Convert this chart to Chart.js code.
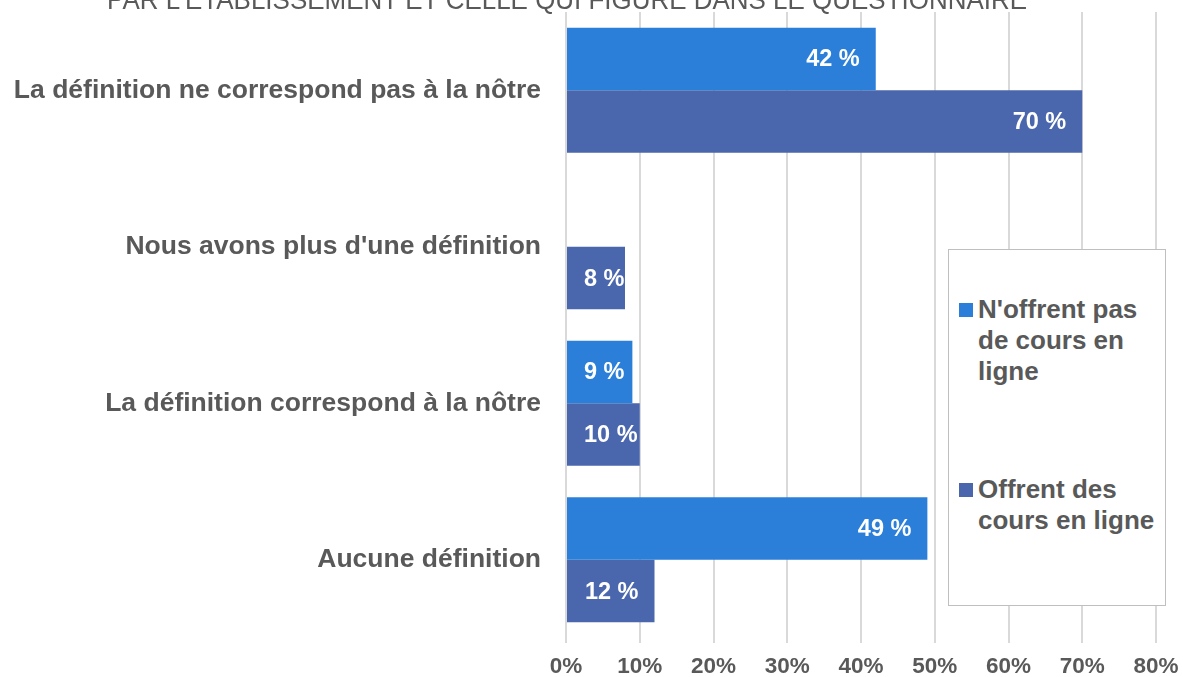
<!DOCTYPE html>
<html>
<head>
<meta charset="utf-8">
<script src="https://cdn.jsdelivr.net/npm/chart.js@4/dist/chart.umd.min.js"></script>
<style>
  html, body { margin: 0; padding: 0; background: #fff; }
  #wrap { position: relative; width: 1183px; height: 677px; overflow: hidden; }
  #legend { position: absolute; left: 948px; top: 249px; width: 216px; height: 355px;
    border: 1px solid #BFBFBF; background: #fff; box-sizing: content-box;
    font-family: "Liberation Sans", Arial, sans-serif; font-weight: bold; font-size: 26px;
    color: #595959; line-height: 31px; }
  .item { position: absolute; left: 29px; white-space: nowrap; }
  .sw { position: absolute; left: -19px; top: 9px; width: 14px; height: 14px; }
</style>
</head>
<body>
<div id="wrap">
  <canvas id="c" width="1183" height="677"></canvas>
  <div id="legend"></div>
</div>
<script>
const titleText = "PAR L'ÉTABLISSEMENT ET CELLE QUI FIGURE DANS LE QUESTIONNAIRE";
const categories = [
  "La définition ne correspond pas à la nôtre",
  "Nous avons plus d'une définition",
  "La définition correspond à la nôtre",
  "Aucune définition"
];
const seriesNames = ["N'offrent pas de cours en ligne", "Offrent des cours en ligne"];
const seriesLegendLines = [["N'offrent pas", "de cours en", "ligne"], ["Offrent des", "cours en ligne"]];
const noOnline = [42, 0, 9, 49];
const withOnline = [70, 8, 10, 12];
const xTicks = [0, 10, 20, 30, 40, 50, 60, 70, 80];
const colors = ["#2B7FD9", "#4A66AD"];

// HTML legend
const legendEl = document.getElementById('legend');
const legendTops = [44, 224];
seriesLegendLines.forEach((lines, i) => {
  const d = document.createElement('div');
  d.className = 'item';
  d.style.top = legendTops[i] + 'px';
  d.innerHTML = '<span class="sw" style="background:' + colors[i] + '"></span>' + lines.join('<br>');
  legendEl.appendChild(d);
});

const FONT = '"Liberation Sans", Arial, sans-serif';

const titlePlugin = {
  id: 'cutTitle',
  afterDraw(chart) {
    const ctx = chart.ctx;
    ctx.save();
    ctx.font = '28px ' + FONT;
    ctx.fillStyle = '#595959';
    ctx.textAlign = 'center';
    ctx.textBaseline = 'alphabetic';
    ctx.fillText(titleText, 567, 9, 920);
    ctx.restore();
  }
};

const labelPlugin = {
  id: 'barLabels',
  afterDatasetsDraw(chart) {
    const ctx = chart.ctx;
    ctx.save();
    ctx.font = 'bold 23.5px ' + FONT;
    ctx.fillStyle = '#ffffff';
    ctx.textAlign = 'right';
    ctx.textBaseline = 'middle';
    chart.data.datasets.forEach((ds, di) => {
      const meta = chart.getDatasetMeta(di);
      meta.data.forEach((bar, i) => {
        const v = ds.data[i];
        if (!v) return;
        const txt = v + ' %';
        const w = ctx.measureText(txt).width;
        const xr = Math.max(bar.x - 16, bar.base + 17 + w);
        ctx.fillText(txt, xr, bar.y + 1);
      });
    });
    ctx.restore();
  }
};

new Chart(document.getElementById('c'), {
  type: 'bar',
  data: {
    labels: categories,
    datasets: [
      { label: seriesNames[0], data: noOnline, backgroundColor: colors[0],
        borderWidth: 0, categoryPercentage: 0.8, barPercentage: 1.0 },
      { label: seriesNames[1], data: withOnline, backgroundColor: colors[1],
        borderWidth: 0, categoryPercentage: 0.8, barPercentage: 1.0 }
    ]
  },
  options: {
    indexAxis: 'y',
    responsive: false,
    animation: false,
    layout: { padding: { top: 12, right: 27, left: 0, bottom: 0 } },
    plugins: { legend: { display: false }, title: { display: false }, tooltip: { enabled: false } },
    scales: {
      x: {
        min: 0, max: 80,
        afterBuildTicks(axis) { axis.ticks = xTicks.map(v => ({ value: v })); },
        afterFit(axis) { axis.height = 39; axis.paddingLeft = 0; axis.paddingRight = 0; },
        grid: { color: '#D9D9D9', lineWidth: 2, drawTicks: true, tickLength: 5, tickColor: '#D9D9D9' },
        border: { display: false },
        ticks: {
          padding: 10,
          color: '#595959',
          font: { family: FONT, size: 22.5, weight: 'bold' },
          callback: (v) => v + '%'
        }
      },
      y: {
        afterFit(axis) { axis.width = 566; axis.paddingTop = 0; axis.paddingBottom = 0; },
        grid: { display: false },
        border: { display: false },
        ticks: {
          padding: 17,
          color: '#595959',
          font: { family: FONT, size: 26.5, weight: 'bold' }
        }
      }
    }
  },
  plugins: [labelPlugin, titlePlugin]
});
</script>
</body>
</html>
